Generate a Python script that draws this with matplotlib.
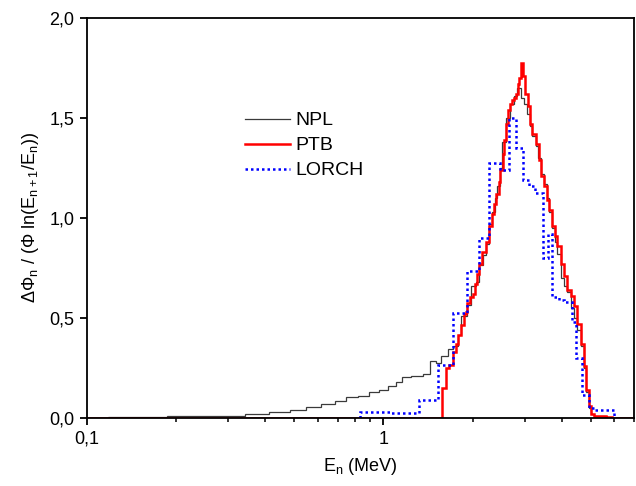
import matplotlib
matplotlib.use("Agg")
import matplotlib.pyplot as plt
from matplotlib.ticker import FixedLocator, NullFormatter

plt.rcParams['font.family'] = ['Liberation Sans', 'DejaVu Sans']
plt.rcParams['mathtext.default'] = 'regular'

# ---- data (energy bin edges in MeV, values per bin) ----
npl_edges = [0.118, 0.186, 0.273, 0.342, 0.411, 0.483, 0.549, 0.617, 0.689, 0.749,
             0.819, 0.897, 0.969, 1.034, 1.103, 1.153, 1.24, 1.357, 1.437, 1.504,
             1.564, 1.646, 1.711, 1.779, 1.826, 1.908, 1.973, 2.052, 2.105, 2.16,
             2.22, 2.27, 2.32, 2.37, 2.42, 2.47, 2.52, 2.59, 2.67, 2.75,
             2.83, 2.92, 2.99, 3.06, 3.12, 3.18, 3.27, 3.33, 3.40, 3.47,
             3.55, 3.62, 3.70, 3.79, 3.86, 3.96, 4.07, 4.17, 4.28, 4.40,
             4.51, 4.63, 4.73, 4.82, 4.92, 5.01, 5.14, 5.6, 7.0]
npl_values = [0.005, 0.008, 0.012, 0.022, 0.032, 0.042, 0.055, 0.07, 0.087, 0.103,
              0.112, 0.128, 0.138, 0.16, 0.18, 0.203, 0.212, 0.222, 0.283, 0.275,
              0.308, 0.345, 0.358, 0.417, 0.508, 0.567, 0.658, 0.68, 0.767, 0.817,
              0.87, 0.97, 1.03, 1.10, 1.16, 1.25, 1.38, 1.50, 1.57, 1.61,
              1.65, 1.60, 1.57, 1.52, 1.46, 1.41, 1.36, 1.30, 1.22, 1.17,
              1.10, 1.03, 0.95, 0.88, 0.82, 0.70, 0.66, 0.63, 0.55, 0.50,
              0.44, 0.36, 0.25, 0.13, 0.05, 0.02, 0.008, 0.0]

ptb_edges = [0.1, 1.572, 1.626, 1.668, 1.72, 1.755, 1.78, 1.83, 1.87, 1.90,
             1.92, 1.96, 2.00, 2.04, 2.07, 2.105, 2.15, 2.217, 2.275, 2.32,
             2.365, 2.405, 2.445, 2.48, 2.522, 2.555, 2.589, 2.63, 2.67, 2.71,
             2.747, 2.79, 2.834, 2.871, 2.90, 2.95, 3.00, 3.062, 3.117, 3.182,
             3.266, 3.334, 3.396, 3.467, 3.548, 3.622, 3.698, 3.785, 3.862, 3.964,
             4.067, 4.174, 4.285, 4.397, 4.512, 4.632, 4.73, 4.817, 4.918, 5.009,
             5.14, 5.63, 5.92, 7.0]
ptb_values = [0.0, 0.15, 0.25, 0.265, 0.33, 0.37, 0.415, 0.465, 0.52, 0.53,
              0.575, 0.605, 0.62, 0.67, 0.72, 0.77, 0.83, 0.88, 0.96, 1.02,
              1.07, 1.12, 1.18, 1.24, 1.32, 1.39, 1.47, 1.54, 1.57, 1.59,
              1.60, 1.62, 1.67, 1.70, 1.775, 1.71, 1.62, 1.56, 1.47, 1.42,
              1.37, 1.29, 1.21, 1.16, 1.09, 1.04, 0.96, 0.91, 0.86, 0.77,
              0.71, 0.64, 0.61, 0.56, 0.47, 0.37, 0.26, 0.14, 0.06, 0.02,
              0.01, 0.005, 0.0]

lorch_edges = [0.835, 1.062, 1.322, 1.524, 1.711, 1.908, 2.10, 2.275, 2.47, 2.65,
               2.80, 2.96, 3.09, 3.24, 3.45, 3.59, 3.71, 3.90, 4.07, 4.34,
               4.45, 4.69, 4.94, 5.14, 5.99]
lorch_values = [0.03, 0.025, 0.092, 0.267, 0.525, 0.733, 0.898, 1.277, 1.24, 1.498,
                1.348, 1.19, 1.16, 1.123, 0.80, 0.92, 0.607, 0.59, 0.582, 0.482,
                0.298, 0.115, 0.048, 0.042]

labels = ["NPL", "PTB", "LORCH"]
x_major = [0.1, 1]
x_major_labels = ["0,1", "1"]
x_minor = [0.2, 0.3, 0.4, 0.5, 0.6, 0.7, 0.8, 0.9, 2, 3, 4, 5, 6, 7]
y_ticks = [0.0, 0.5, 1.0, 1.5, 2.0]
y_tick_labels = ["0,0", "0,5", "1,0", "1,5", "2,0"]

fig = plt.figure(figsize=(6.36, 4.86), dpi=100)
ax = fig.add_axes([87/636, (486-418)/486, (634-87)/636, 400/486])

ax.stairs(npl_values, npl_edges, color='#3a3a3a', linewidth=0.9, label=labels[0], baseline=None)
ax.stairs(ptb_values, ptb_edges, color='#ff0000', linewidth=1.8, label=labels[1], baseline=None)
ax.stairs(lorch_values, lorch_edges, color='#0000ff', linewidth=1.8, linestyle=(0, (1, 1.2)),
          label=labels[2], baseline=0)

ax.set_xscale('log')
ax.set_xlim(0.1, 7.0)
ax.set_ylim(0.0, 2.0)

ax.xaxis.set_major_locator(FixedLocator(x_major))
ax.set_xticklabels(x_major_labels)
ax.xaxis.set_minor_locator(FixedLocator(x_minor))
ax.xaxis.set_minor_formatter(NullFormatter())
ax.set_yticks(y_ticks)
ax.set_yticklabels(y_tick_labels)

ax.tick_params(axis='both', which='major', direction='out', length=5, width=1.3,
               labelsize=13, top=False, right=False, pad=4)
ax.tick_params(axis='both', which='minor', direction='out', length=3, width=1.1,
               top=False, right=False)
for s in ax.spines.values():
    s.set_linewidth(1.3)

ax.set_xlabel("E$_n$ (MeV)", fontsize=13, labelpad=6)
ax.set_ylabel("ΔΦ$_n$ / (Φ ln(E$_{n+1}$/E$_n$))", fontsize=13, labelpad=6)

leg = ax.legend(loc='upper left', bbox_to_anchor=(0.275, 0.785), frameon=False,
                fontsize=14, handlelength=2.3, handletextpad=0.3, labelspacing=0.38,
                borderaxespad=0)

fig.savefig("out.png", dpi=100)
